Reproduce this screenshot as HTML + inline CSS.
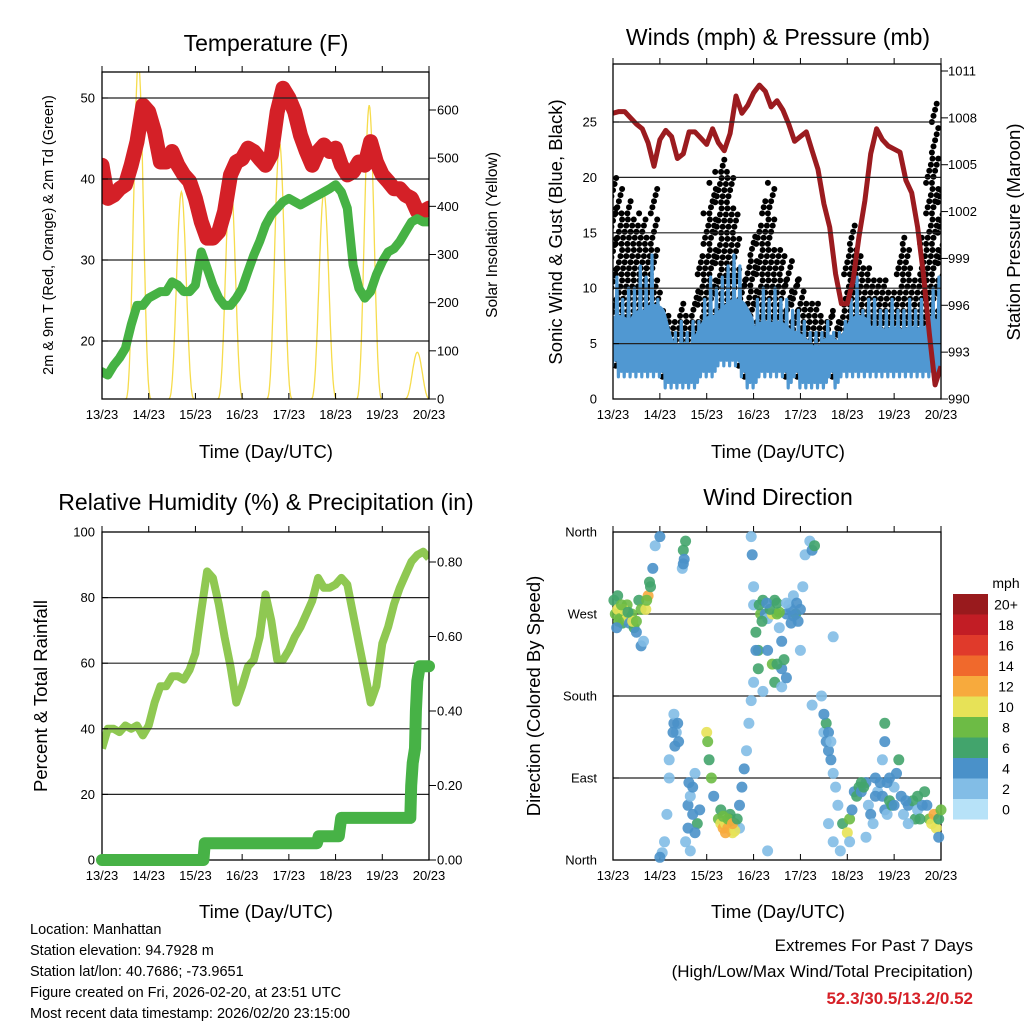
<!DOCTYPE html>
<html><head><meta charset="utf-8">
<style>
html,body{margin:0;padding:0;background:#fff;}
svg{display:block;font-family:"Liberation Sans",sans-serif;}
</style></head>
<body>
<svg id="c" width="1024" height="1024" viewBox="0 0 1024 1024" xmlns="http://www.w3.org/2000/svg">
<defs>
<clipPath id="clipT"><rect x="102" y="72" width="327" height="327"/></clipPath>
<clipPath id="clipW"><rect x="613" y="64" width="328" height="335"/></clipPath>
<clipPath id="clipR"><rect x="102" y="532" width="327" height="328"/></clipPath>
<clipPath id="clipD"><rect x="613" y="532" width="328" height="328"/></clipPath>
</defs>
<text x="266" y="51" font-size="23" text-anchor="middle">Temperature (F)</text>
<text x="778" y="45" font-size="23" text-anchor="middle">Winds (mph) &amp; Pressure (mb)</text>
<text x="266" y="510" font-size="23" text-anchor="middle">Relative Humidity (%) &amp; Precipitation (in)</text>
<text x="778" y="505" font-size="23" text-anchor="middle">Wind Direction</text>
<text transform="translate(53,235) rotate(-90)" font-size="14.5" text-anchor="middle">2m &amp; 9m T (Red, Orange) &amp; 2m Td (Green)</text>
<text transform="translate(497,235) rotate(-90)" font-size="15.5" text-anchor="middle">Solar Insolation (Yellow)</text>
<text transform="translate(562,232) rotate(-90)" font-size="18.5" text-anchor="middle">Sonic Wind &amp; Gust (Blue, Black)</text>
<text transform="translate(1020,232) rotate(-90)" font-size="18.5" text-anchor="middle">Station Pressure (Maroon)</text>
<text transform="translate(47,696) rotate(-90)" font-size="18.5" text-anchor="middle">Percent &amp; Total Rainfall</text>
<text transform="translate(540,696) rotate(-90)" font-size="18.5" text-anchor="middle">Direction (Colored By Speed)</text>
<text x="266" y="458" font-size="18.5" text-anchor="middle">Time (Day/UTC)</text>
<text x="778" y="458" font-size="18.5" text-anchor="middle">Time (Day/UTC)</text>
<text x="266" y="918" font-size="18.5" text-anchor="middle">Time (Day/UTC)</text>
<text x="778" y="918" font-size="18.5" text-anchor="middle">Time (Day/UTC)</text>
<g font-size="14.5">
<text x="30" y="934">Location: Manhattan</text>
<text x="30" y="955">Station elevation: 94.7928 m</text>
<text x="30" y="976">Station lat/lon: 40.7686; -73.9651</text>
<text x="30" y="997">Figure created on Fri, 2026-02-20, at 23:51 UTC</text>
<text x="30" y="1018">Most recent data timestamp: 2026/02/20 23:15:00</text>
</g>
<g font-size="17" text-anchor="end">
<text x="973" y="951">Extremes For Past 7 Days</text>
<text x="973" y="977">(High/Low/Max Wind/Total Precipitation)</text>
<text x="973" y="1004" fill="#d62027" font-weight="bold">52.3/30.5/13.2/0.52</text>
</g>
<text x="1006" y="588" font-size="14" text-anchor="middle">mph</text>
</svg>
<script>
const dayLabels = ["13/23","14/23","15/23","16/23","17/23","18/23","19/23","20/23"];
const tempF = [41.7,37.6,38,38.8,39.3,41.7,44.6,49.1,48.3,45.8,42.1,42.1,43.4,41.7,40.5,39.7,37.6,34.7,32.7,32.7,33.5,36,40.5,42.1,42.5,43.8,43.4,42.5,41.7,43,48.3,51.2,50,48.3,45.4,43.4,41.7,43.4,44.2,43.4,43.8,41.7,40.5,40.9,42.1,41.7,44.6,42.1,40.5,39.7,38.8,38.8,38,37.6,36,36,36.4];
const dewF = [16.2,15.8,17,17.9,19.1,22,24.4,24.4,25.3,25.7,26.1,26.1,27.3,26.9,26.1,26.1,26.9,31,29,26.9,25.3,24.4,24.4,25.3,26.5,28.6,30.6,32.3,34.3,35.6,36.4,37.2,37.6,37.2,36.8,37.2,37.6,38,38.4,38.8,39.3,38.4,36.4,29.4,26.5,25.3,26.1,28.2,29.8,31,31.4,32.3,33.5,34.7,35.1,34.7,34.7];
const solarCenter = [0.78,1.7,2.75,3.8,4.75,5.72,6.75];
const solarPeak = [700,430,465,533,430,610,97];
const tempTicks = [20,30,40,50];
const solarTicks = [0,100,200,300,400,500,600];

const pressureMb = [1008.3,1008.4,1008.4,1008,1007.6,1007.3,1006.4,1004.9,1006.6,1007.2,1006.8,1005.4,1005.7,1007.1,1007.1,1006.7,1006.3,1007.3,1006.4,1005.9,1007,1009.4,1008.3,1008.8,1009.6,1010.1,1009.7,1008.7,1009.1,1008.5,1007.6,1006.5,1006.8,1007.1,1005.9,1004.7,1002.5,1001,998,996.1,996.1,997.6,1000.4,1002.7,1005.7,1007.3,1006.6,1006.2,1006,1005.8,1004,1003.2,1001,998,994.2,990.9,992.1];
const windLow = [3,2,2,2,2,2,2,2,2,1,1,1,1,1,1,2,2,2,3,3,3,3,2,1,1,2,2,2,2,2,1,2,1,1,1,1,1,2,1,2,2,2,2,2,2,2,2,2,2,2,2,2,2,2,2,2,3];
const windHigh = [9,11,9,10,10,12,11,13,9,7,6,6,7,6,7,7,9,11,10,11,12,13,12,7,7,9,10,9,10,9,9,8,8,7,6,6,6,7,6,6,7,9,11,8,9,9,8,8,9,8,8,9,8,9,6,10,11];
const gustHigh = [20,19,17,18,16,17,15,19,10,8,8,7,9,8,10,13,17,20,21,22,21,17,11,13,15,16,18,20,14,13,13,11,11,9,9,9,8,8,8,8,14,16,13,12,12,11,11,10,10,14,15,12,11,15,22,27,19];
const windTicks = [0,5,10,15,20,25];
const pressTicks = [990,993,996,999,1002,1005,1008,1011];

const rhPct = [34,40,40,39,41,40,41,38,41,48,53,53,56,56,55,58,63,76,88,86,78,68,59,48,53,59,61,68,81,73,61,61,64,68,71,75,79,86,83,83,84,86,84,75,66,57,48,53,66,71,78,83,87,91,93,94,92];
const precipDay = [0,2.17,2.2,4.6,4.64,5.07,5.12,6.6,6.62,6.65,6.7,6.72,6.75,6.8,7];
const precipIn = [0,0,0.045,0.045,0.064,0.064,0.113,0.113,0.2,0.26,0.3,0.4,0.48,0.52,0.52];
const rhTicks = [0,20,40,60,80,100];
const precipTicks = [0,0.2,0.4,0.6,0.8];

const dirNames = ["North","East","South","West","North"];
const dirTicks = [0,90,180,270,360];
const windPts = [[0.02,285,6],[0.05,270,9],[0.1,275,10],[0.15,265,8],[0.2,260,6],[0.25,270,8],[0.3,265,10],[0.35,260,4],[0.4,270,9],[0.45,255,7],[0.5,250,4],[0.55,285,6],[0.6,275,8],[0.7,275,11],[0.75,290,12],[0.8,300,6],[0.85,320,4],[0.9,345,3],[1.0,355,4],[0.6,235,4],[0.65,240,3],[0.1,290,7],[0.3,280,8],[0.12,262,9],[0.22,275,11],[0.42,262,10],[0.08,255,5],[0.18,280,9],[0.32,272,7],[0.5,262,8],[0.72,285,9],[0.78,305,7],
[1.5,340,6],[1.52,330,4],[1.55,350,7],[1.48,320,3],[1.5,325,5],
[2.95,355,2],[2.97,335,4],[3.0,300,3],[3.0,280,2],[3.05,250,7],[3.1,230,6],[3.1,210,7],[3.15,270,8],[3.2,285,6],[3.25,270,4],[3.3,265,3],[3.4,270,10],[3.45,285,6],[3.5,270,8],[3.55,255,3],[3.6,240,4],[3.7,270,5],[3.75,280,3],[3.8,260,4],[3.85,290,3],[3.9,270,6],[4.0,275,4],[4.05,300,2],[3.6,210,4],[3.65,220,7],[3.4,215,8],[3.45,195,6],[3.3,230,4],[4.0,230,3],[3.0,195,3],[2.95,175,2],[2.9,150,3],[4.1,335,2],[4.2,350,3],[4.25,340,4],[4.3,345,6],[4.7,245,2],[3.6,190,3],[3.2,185,2],[4.25,170,2],[4.45,180,2],[3.12,280,7],[3.35,275,6],[3.55,272,9],[3.8,275,5],[3.95,262,4],[3.18,262,7],[3.28,282,5],[3.5,282,7],[3.7,282,3],[3.85,268,5],[3.92,282,4],[3.05,230,5],[3.5,215,6],[3.7,200,5],
[1.3,150,4],[1.35,140,3],[1.4,130,4],[1.3,160,2],[1.2,110,2],[1.2,90,2],[1.15,50,3],[1.1,20,2],[1.05,8,2],[1.0,3,4],[1.32,125,4],[1.28,140,5],[1.38,150,5],
[1.6,60,4],[1.65,70,3],[1.7,80,4],[1.75,95,3],[1.8,40,6],[1.85,55,4],[1.6,35,5],[1.55,20,2],[1.65,10,2],[1.7,50,4],[1.75,30,5],[1.62,85,4],
[2.0,140,10],[2.02,130,8],[2.05,110,6],[2.1,90,8],[2.15,70,4],
[2.25,45,8],[2.3,40,11],[2.35,35,12],[2.4,40,10],[2.45,35,13],[2.5,45,8],[2.55,30,10],[2.6,40,9],[2.5,50,6],[2.3,55,7],[2.7,60,5],[2.75,80,4],[2.8,100,4],[2.85,120,2],[2.7,35,3],[3.3,10,2],[2.4,30,12],[2.6,32,11],[2.45,45,9],[2.55,40,12],[2.35,48,9],[2.65,45,7],
[4.5,140,3],[4.55,130,4],[4.6,120,5],[4.65,110,4],[4.7,95,3],[4.75,80,2],[4.8,60,2],[4.6,40,3],[4.7,20,2],[4.85,10,2],[4.55,150,6],[4.5,160,4],[4.6,140,4],[4.65,130,3],
[4.9,40,6],[5.0,30,10],[5.05,45,8],[5.1,55,4],[5.15,75,4],[5.2,70,7],[5.25,80,6],[5.3,75,5],[5.4,85,4],[5.45,60,3],[5.5,50,4],[5.6,90,4],[5.65,75,3],[5.7,85,4],[5.75,70,5],[5.8,55,4],[5.85,50,3],[5.9,65,6],[5.95,60,7],[6.0,80,3],[6.05,95,4],[6.1,110,6],[6.15,70,5],[6.2,50,3],[6.3,60,5],[6.4,65,7],[6.45,45,6],[6.5,55,3],[6.6,60,4],[6.65,75,6],[6.75,45,8],[6.8,40,10],[6.85,50,12],[6.9,35,11],[6.95,45,6],[7.0,55,8],[5.8,150,6],[5.8,130,5],[5.75,110,2],[6.95,25,5],[5.05,20,2],[5.4,25,2],[6.3,40,2],[5.3,85,7],[5.6,70,4],[6.0,60,4],[6.5,70,7],[5.35,80,7],[5.85,85,4],[5.9,90,4],[6.55,45,6],[6.7,60,5],[6.25,65,4],[5.55,40,3]];
const speedBins = ["0","2","4","6","8","10","12","14","16","18","20+"];
const speedColors = ["#b7e2f8","#82bde6","#4a91c9","#42a46c","#6dbb45","#e7e257","#f7aa3d","#f0692c","#e03a2b","#c21d25","#991a1d"];

const NS="http://www.w3.org/2000/svg";
const svg=document.getElementById('c');
function mk(tag, parent, attrs){const e=document.createElementNS(NS,tag);for(const k in attrs)e.setAttribute(k,attrs[k]);parent.appendChild(e);return e;}
function lin(d0,d1,r0,r1){return v=>r0+(v-d0)*(r1-r0)/(d1-d0);}

function panel(name,x0,y0,x1,y1,clip){
  const g=mk('g',svg,{});
  
  
  const inner=mk('g',g,{'clip-path':'url(#'+clip+')'});
  return {g,inner,x0,y0,x1,y1};
}
function frame(p){
  const r=mk('rect',p.g,{x:p.x0,y:p.y0,width:p.x1-p.x0,height:p.y1-p.y0,fill:'none',stroke:'#000','stroke-width':1.3});
  
  
}
function xAxis(p,xs){
  for(let i=0;i<dayLabels.length;i++){
    const x=xs(i);
    mk('line',p.g,{x1:x,x2:x,y1:p.y1,y2:p.y1-6,stroke:'#000','stroke-width':1});
    mk('line',p.g,{x1:x,x2:x,y1:p.y0,y2:p.y0-6,stroke:'#000','stroke-width':1});
    const t=mk('text',p.g,{x:x,y:p.y1+20,'font-size':13,'text-anchor':'middle'});
    t.textContent=dayLabels[i];
    
    
  }
}
function grid(p,ticks,ys,labels,lx){
  ticks.forEach((v,i)=>{
    const y=ys(v);
    if(y>p.y0+1&&y<p.y1-1){
      const l=mk('line',p.g,{x1:p.x0,x2:p.x1,y1:y,y2:y,stroke:'#222','stroke-width':1.2});
      
      
    }
    mk('line',p.g,{x1:p.x0,x2:p.x0+6,y1:y,y2:y,stroke:'#000'});
    const t=mk('text',p.g,{x:lx,y:y+4.5,'font-size':13,'text-anchor':'end'});
    t.textContent=labels?labels[i]:v;
    
    
  });
}
function rightAxis(p,ticks,ys,labels,lx){
  ticks.forEach((v,i)=>{
    const y=ys(v);
    mk('line',p.g,{x1:p.x1,x2:p.x1+7,y1:y,y2:y,stroke:'#000'});
    const t=mk('text',p.g,{x:lx,y:y+4.5,'font-size':13,'text-anchor':'start'});
    t.textContent=labels?labels[i]:v;
    
    
  });
}
function linePath(vals,xf,yf){return vals.map((v,i)=>(i?'L':'M')+xf(i).toFixed(1)+','+yf(v).toFixed(1)).join('');}

// Temperature
(function(){
  const p=panel('temperature-chart',102,72,429,399,'clipT');
  const xd=lin(0,7,102,429), xi=i=>xd(i/8);
  const yT=lin(20,50,341,98), yS=lin(0,600,399,110);
  solarCenter.forEach((c,i)=>{
    let d='';
    for(let s=0;s<=40;s++){const t=c-0.28+0.56*s/40;const f=Math.pow(Math.cos((t-c)/0.28*Math.PI/2),3);d+=(s?'L':'M')+xd(t).toFixed(1)+','+yS(solarPeak[i]*f).toFixed(1);}
    const e=mk('path',p.inner,{d:d,fill:'none',stroke:'#f6dc4c','stroke-width':1.3});
    
    
  });
  const r=mk('path',p.inner,{d:linePath(tempF,xi,yT),fill:'none',stroke:'#d42027','stroke-width':15,'stroke-linejoin':'round','stroke-linecap':'round'});
  
  
  const g=mk('path',p.inner,{d:linePath(dewF,xi,yT),fill:'none',stroke:'#46b244','stroke-width':9,'stroke-linejoin':'round','stroke-linecap':'round'});
  
  
  grid(p,tempTicks,yT,null,95);
  rightAxis(p,solarTicks,yS,null,437);
  xAxis(p,i=>xd(i));
  frame(p);
})();

// Winds
(function(){
  const p=panel('winds-chart',613,64,941,399,'clipW');
  const xd=lin(0,7,613,941), xi=i=>xd(i/8);
  const yW=lin(0,25,399,122), yP=lin(990,1011,399,71);
  gustHigh.forEach((v,i)=>{
    let j=0;
    for(let s=windLow[i]+1; s<=v; s+=0.55){
      const c=mk('circle',p.inner,{cx:(xi(i)+((j%5)-2)*1.6).toFixed(1),cy:yW(s).toFixed(1),r:3,fill:'#000'});
      
      
      j++;
    }
  });
  let d='';
  windHigh.forEach((v,i)=>{
    const x=xi(i);
    d+=(i?'L':'M')+(x-2).toFixed(1)+','+yW(v).toFixed(1)+'L'+(x-0.5).toFixed(1)+','+yW(windLow[i]).toFixed(1)+'L'+(x+1).toFixed(1)+','+yW((v+windLow[i]*2)/3+2).toFixed(1)+'L'+(x+2.5).toFixed(1)+','+yW(windLow[i]+0.5).toFixed(1);
  });
  const wl=mk('path',p.inner,{d:d,fill:'none',stroke:'#5098d2','stroke-width':3.2,'stroke-linejoin':'round'});
  
  
  const mid=mk('path',p.inner,{d:windHigh.map((v,i)=>(i?'L':'M')+xi(i).toFixed(1)+','+yW((v+windLow[i])/2).toFixed(1)).join(''),fill:'none',stroke:'#5098d2','stroke-width':24,'stroke-linejoin':'round'});
  
  
  grid(p,windTicks,yW,null,597);
  const pr=mk('path',p.inner,{d:linePath(pressureMb,xi,yP),fill:'none',stroke:'#9b1b1f','stroke-width':5,'stroke-linejoin':'round'});
  
  
  rightAxis(p,pressTicks,yP,null,948);
  xAxis(p,i=>xd(i));
  frame(p);
})();

// Humidity
(function(){
  const p=panel('humidity-chart',102,532,429,860,'clipR');
  const xd=lin(0,7,102,429), xi=i=>xd(i/8);
  const yR=lin(0,100,860,532), yI=lin(0,0.8,860,562);
  grid(p,rhTicks,yR,null,95);
  const rh=mk('path',p.inner,{d:linePath(rhPct,xi,yR),fill:'none',stroke:'#8fc852','stroke-width':8,'stroke-linejoin':'round'});
  
  
  const pc=mk('path',svg,{d:precipIn.map((v,i)=>(i?'L':'M')+xd(precipDay[i]).toFixed(1)+','+yI(v).toFixed(1)).join(''),fill:'none',stroke:'#47b246','stroke-width':12,'stroke-linejoin':'round','stroke-linecap':'round'});
  
  
  rightAxis(p,precipTicks,yI,precipTicks.map(v=>v.toFixed(2)),437);
  xAxis(p,i=>xd(i));
  frame(p);
})();

// Wind direction
(function(){
  const p=panel('wind-direction-chart',613,532,941,860,'clipD');
  const xd=lin(0,7,613,941), yD=lin(0,360,860,532);
  grid(p,dirTicks,yD,dirNames,597);
  windPts.forEach(pt=>{
    const bin=Math.min(10,Math.floor(pt[2]/2));
    const c=mk('circle',svg,{cx:xd(pt[0]).toFixed(1),cy:yD(pt[1]).toFixed(1),r:5.5,fill:speedColors[bin],opacity:0.9});
    
    
  });
  xAxis(p,i=>xd(i));
  frame(p);
  const bh=20.5, top=594;
  speedBins.forEach((lab,i)=>{
    const y=top+(10-i)*bh;
    const r=mk('rect',svg,{x:953,y:y,width:35,height:bh,fill:speedColors[i]});
    
    
    const t=mk('text',svg,{x:1006,y:y+bh/2+5,'font-size':14,'text-anchor':'middle'});
    t.textContent=lab;
    
    
  });
})();
</script>
</body></html>
